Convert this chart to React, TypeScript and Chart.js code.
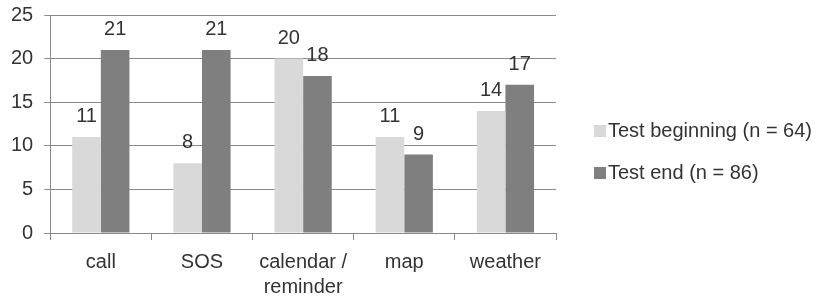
import React, { useEffect, useRef } from "react";
import { Chart, registerables } from "chart.js";

Chart.register(...registerables);

const categories: (string | string[])[] = ["call", "SOS", ["calendar /", "reminder"], "map", "weather"];
const seriesNames = ["Test beginning (n = 64)", "Test end (n = 86)"];
const testBeginning = [11, 8, 20, 11, 14];
const testEnd = [21, 21, 18, 9, 17];
const yMin = 0;
const yMax = 25;
const yStep = 5;

const FONT = "'Liberation Sans', Arial, sans-serif";
const TEXT = "#333333";
const GRID = "#8a8a8a";
const LIGHT = "#d9d9d9";
const DARK = "#7f7f7f";

const valueLabels = {
  id: "valueLabels",
  afterDatasetsDraw(chart: any) {
    const ctx = chart.ctx;
    ctx.save();
    ctx.font = `20px ${FONT}`;
    ctx.fillStyle = TEXT;
    ctx.textAlign = "center";
    ctx.textBaseline = "alphabetic";
    chart.data.datasets.forEach((ds: any, i: number) => {
      const meta = chart.getDatasetMeta(i);
      meta.data.forEach((bar: any, j: number) => {
        ctx.fillText(String(ds.data[j]), bar.x, bar.y - 15);
      });
    });
    ctx.restore();
  },
};

const sideLegend = {
  id: "sideLegend",
  afterDraw(chart: any) {
    const ctx = chart.ctx;
    const n = chart.data.datasets.length;
    const x0 = chart.chartArea.right + 38;
    const cy = chart.height / 2 + 2;
    const gap = 42;
    ctx.save();
    ctx.font = `20px ${FONT}`;
    ctx.textAlign = "left";
    ctx.textBaseline = "middle";
    chart.data.datasets.forEach((ds: any, i: number) => {
      const y = cy + (i - (n - 1) / 2) * gap;
      ctx.fillStyle = ds.backgroundColor;
      ctx.fillRect(x0, y - 6, 12, 12);
      ctx.fillStyle = TEXT;
      ctx.fillText(ds.label, x0 + 14, y);
    });
    ctx.restore();
  },
};

export default function App() {
  const ref = useRef<HTMLCanvasElement>(null);

  useEffect(() => {
    if (!ref.current) return;
    const chart = new Chart(ref.current, {
      type: "bar",
      data: {
        labels: categories,
        datasets: [
          {
            label: seriesNames[0],
            data: testBeginning,
            backgroundColor: LIGHT,
            borderWidth: 0,
            barPercentage: 1,
            categoryPercentage: 0.566,
          },
          {
            label: seriesNames[1],
            data: testEnd,
            backgroundColor: DARK,
            borderWidth: 0,
            barPercentage: 1,
            categoryPercentage: 0.566,
          },
        ],
      },
      options: {
        animation: false,
        responsive: true,
        maintainAspectRatio: false,
        layout: { padding: { left: 0, right: 260, top: 15, bottom: 0 } },
        plugins: {
          legend: { display: false },
          tooltip: { enabled: false },
        },
        scales: {
          x: {
            afterFit: (scale: any) => {
              scale.height = 67;
              scale.paddingLeft = 0;
              scale.paddingRight = 0;
            },
            grid: {
              drawOnChartArea: false,
              drawTicks: true,
              tickLength: 7,
              color: GRID,
              offset: true,
            },
            border: { color: GRID, width: 1 },
            ticks: {
              font: { size: 20, family: FONT, lineHeight: 1.25 },
              color: TEXT,
              padding: 10,
              maxRotation: 0,
              autoSkip: false,
            },
          },
          y: {
            min: yMin,
            max: yMax,
            afterFit: (scale: any) => {
              scale.paddingTop = 0;
              scale.paddingBottom = 0;
            },
            grid: { color: GRID, tickLength: 6 },
            border: { color: GRID, width: 1 },
            ticks: {
              stepSize: yStep,
              font: { size: 20, family: FONT },
              color: TEXT,
              padding: 11,
            },
          },
        },
      },
      plugins: [valueLabels, sideLegend],
    });
    return () => chart.destroy();
  }, []);

  return (
    <div style={{ position: "absolute", left: 0, top: 0, width: 816, height: 300, background: "#fff" }}>
      <canvas ref={ref} />
    </div>
  );
}
